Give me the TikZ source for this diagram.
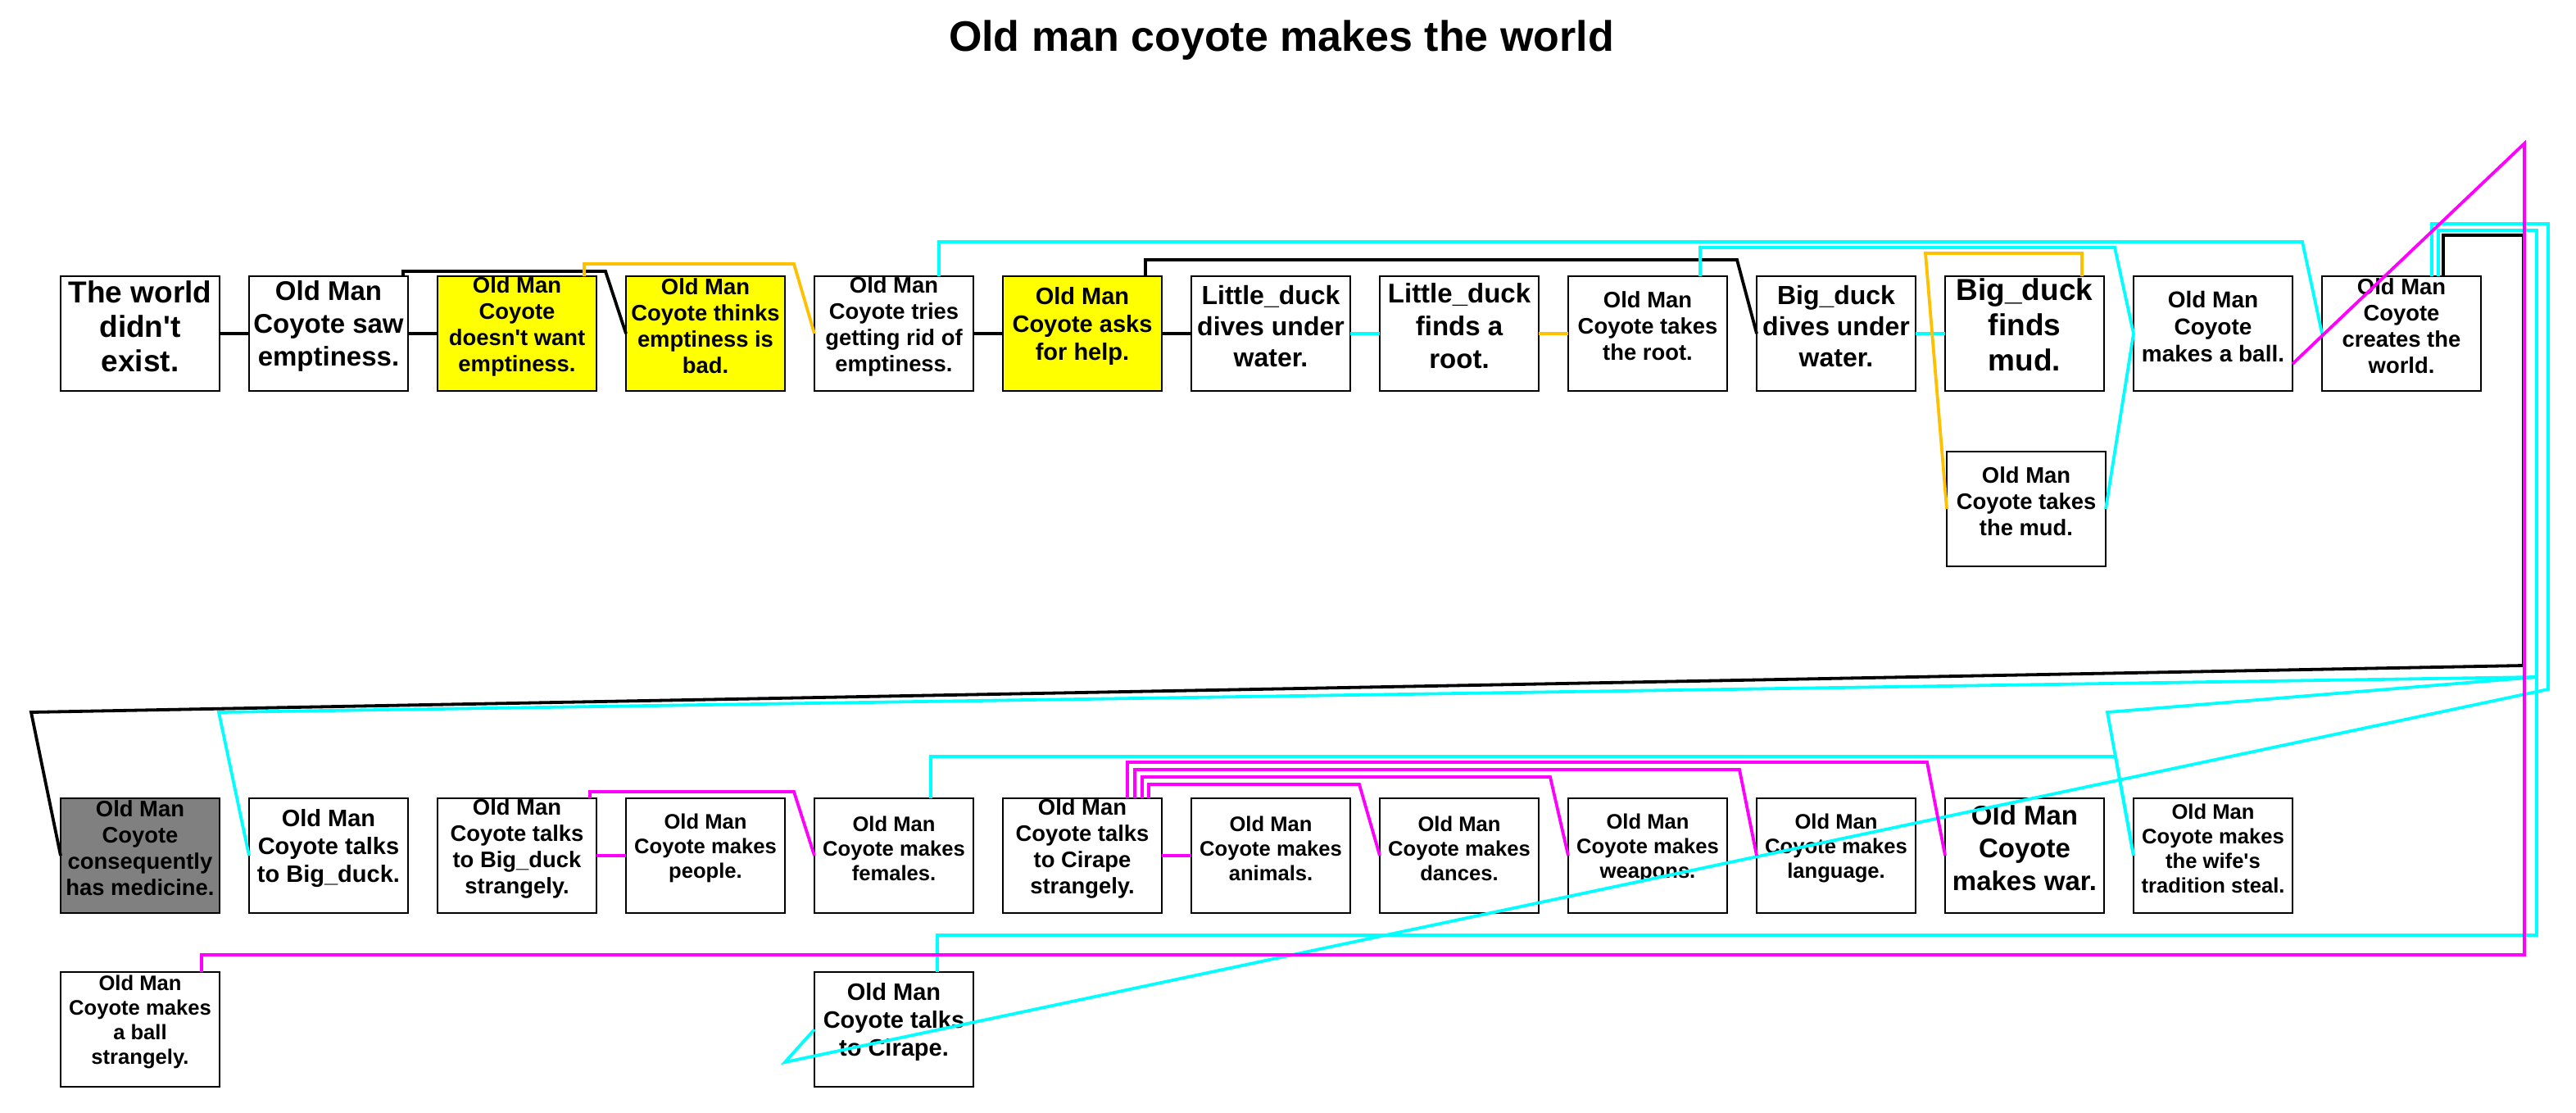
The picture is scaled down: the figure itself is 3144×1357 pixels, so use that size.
\documentclass[tikz,border=0pt]{standalone}
\usepackage{fontspec}
\setmainfont{Liberation Sans}
\usetikzlibrary{calc}
\definecolor{cyanL}{RGB}{0,255,255}
\definecolor{magL}{RGB}{255,0,255}
\definecolor{orangeL}{RGB}{255,192,0}
\definecolor{yellowL}{RGB}{255,255,0}
\definecolor{grayL}{RGB}{128,128,128}
\begin{document}
\begin{tikzpicture}[x=0.5pt,y=-0.5pt,
  box/.style={draw=black, line width=1pt, fill=white, minimum width=97pt, minimum height=70pt, inner sep=0pt, outer sep=0pt},
  ybox/.style={box, fill=yellowL},
  gbox/.style={box, fill=grayL},
  txt/.style={align=center, inner sep=0pt, text=black},
  fA/.style={font=\bfseries\fontsize{18.5}{21}\selectfont},
  fB/.style={font=\bfseries\fontsize{16.5}{20}\selectfont},
  fC/.style={font=\bfseries\fontsize{16}{19}\selectfont},
  fD/.style={font=\bfseries\fontsize{18.5}{21.5}\selectfont},
  fE/.style={font=\bfseries\fontsize{14.5}{17}\selectfont},
  fF/.style={font=\bfseries\fontsize{13.7}{16}\selectfont},
  fK/.style={font=\bfseries\fontsize{14}{16.5}\selectfont},
  fG/.style={font=\bfseries\fontsize{12.8}{15}\selectfont},
  con/.style={line width=1.9pt, line join=miter},
  blk/.style={con, draw=black},
  cyn/.style={con, draw=cyanL},
  mag/.style={con, draw=magL},
  org/.style={con, draw=orangeL}]

\fill[white] (0,0) rectangle (3144,1357);
\useasboundingbox (0,0) rectangle (3144,1357);

\node[font=\bfseries\fontsize{26}{30}\selectfont, anchor=base] (title) at (1564,62) {Old man coyote makes the world};

% ---------- top row ----------
\node[box]  (T0)  at (171,407) {};
\node[box]  (T1)  at (401,407) {};
\node[ybox] (T2)  at (631,407) {};
\node[ybox] (T3)  at (861,407) {};
\node[box]  (T4)  at (1091,407) {};
\node[ybox] (T5)  at (1321,407) {};
\node[box]  (T6)  at (1551,407) {};
\node[box]  (T7)  at (1781,407) {};
\node[box]  (T8)  at (2011,407) {};
\node[box]  (T9)  at (2241,407) {};
\node[box]  (T10) at (2471,407) {};
\node[box]  (T11) at (2701,407) {};
\node[box]  (T12) at (2931,407) {};
\node[box]  (M)   at (2473,621) {};

\node[txt,fA] (T0t)  at ($(T0)+(0,-9)$)  {The world\\didn\textquotesingle t\\exist.};
\node[txt,fB] (T1t)  at ($(T1)+(0,-9)$)  {Old Man\\Coyote saw\\emptiness.};
\node[txt,fF] (T2t)  at ($(T2)+(0,-9)$)  {Old Man\\Coyote\\doesn\textquotesingle t want\\emptiness.};
\node[txt,fF] (T3t)  at ($(T3)+(0,-9)$)  {Old Man\\Coyote thinks\\emptiness is\\bad.};
\node[txt,fF] (T4t)  at ($(T4)+(0,-9)$)  {Old Man\\Coyote tries\\getting rid of\\emptiness.};
\node[txt,fE] (T5t)  at ($(T5)+(0,-9)$)  {Old Man\\Coyote asks\\for help.};
\node[txt,fC] (T6t)  at ($(T6)+(0,-9)$)  {Little\_duck\\dives under\\water.};
\node[txt,fB] (T7t)  at ($(T7)+(0,-9)$)  {Little\_duck\\finds a\\root.};
\node[txt,fF] (T8t)  at ($(T8)+(0,-9)$)  {Old Man\\Coyote takes\\the root.};
\node[txt,fC] (T9t)  at ($(T9)+(0,-9)$)  {Big\_duck\\dives under\\water.};
\node[txt,fD] (T10t) at ($(T10)+(0,-11)$) {Big\_duck\\finds\\mud.};
\node[txt,fK] (T11t) at ($(T11)+(0,-9)$) {Old Man\\Coyote\\makes a ball.};
\node[txt,fF] (T12t) at ($(T12)+(0,-9)$) {Old Man\\Coyote\\creates the\\world.};
\node[txt,fF] (Mt)   at ($(M)+(0,-9)$)   {Old Man\\Coyote takes\\the mud.};

% ---------- bottom row ----------
\node[gbox] (B0)  at (171,1044) {};
\node[box]  (B1)  at (401,1044) {};
\node[box]  (B2)  at (631,1044) {};
\node[box]  (B3)  at (861,1044) {};
\node[box]  (B4)  at (1091,1044) {};
\node[box]  (B5)  at (1321,1044) {};
\node[box]  (B6)  at (1551,1044) {};
\node[box]  (B7)  at (1781,1044) {};
\node[box]  (B8)  at (2011,1044) {};
\node[box]  (B9)  at (2241,1044) {};
\node[box]  (B10) at (2471,1044) {};
\node[box]  (B11) at (2701,1044) {};
\node[box]  (C0)  at (171,1256) {};
\node[box]  (C4)  at (1091,1256) {};

\node[txt,fF] (B0t)  at ($(B0)+(0,-9)$)  {Old Man\\Coyote\\consequently\\has medicine.};
\node[txt,fE] (B1t)  at ($(B1)+(0,-9)$)  {Old Man\\Coyote talks\\to Big\_duck.};
\node[txt,fF] (B2t)  at ($(B2)+(0,-9)$)  {Old Man\\Coyote talks\\to Big\_duck\\strangely.};
\node[txt,fG] (B3t)  at ($(B3)+(0,-9)$)  {Old Man\\Coyote makes\\people.};
\node[txt,fG] (B4t)  at ($(B4)+(0,-9)$)  {Old Man\\Coyote makes\\females.};
\node[txt,fF] (B5t)  at ($(B5)+(0,-9)$)  {Old Man\\Coyote talks\\to Cirape\\strangely.};
\node[txt,fG] (B6t)  at ($(B6)+(0,-9)$)  {Old Man\\Coyote makes\\animals.};
\node[txt,fG] (B7t)  at ($(B7)+(0,-9)$)  {Old Man\\Coyote makes\\dances.};
\node[txt,fG] (B8t)  at ($(B8)+(0,-9)$)  {Old Man\\Coyote makes\\weapons.};
\node[txt,fG] (B9t)  at ($(B9)+(0,-9)$)  {Old Man\\Coyote makes\\language.};
\node[txt,fB] (B10t) at ($(B10)+(0,-9)$) {Old Man\\Coyote\\makes war.};
\node[txt,fG] (B11t) at ($(B11)+(0,-9)$) {Old Man\\Coyote makes\\the wife\textquotesingle s\\tradition steal.};
\node[txt,fG] (C0t)  at ($(C0)+(0,-9)$)  {Old Man\\Coyote makes\\a ball\\strangely.};
\node[txt,fE] (C4t)  at ($(C4)+(0,-9)$)  {Old Man\\Coyote talks\\to Cirape.};

\coordinate (J) at (3096,826);

% ---------- connectors: top row ----------
\draw[blk] (T0.east) -- (T1.west);
\draw[blk] (T1.east) -- (T2.west);
\draw[blk] ($(T1.north west)+(188,0)$) |- (739,331) -- (T3.west);
\draw[org] ($(T2.north west)+(179,0)$) |- (969,322) -- (T4.west);
\draw[blk] (T4.east) -- (T5.west);
\draw[blk] (T5.east) -- (T6.west);
\draw[cyn] (T6.east) -- (T7.west);
\draw[org] (T7.east) -- (T8.west);
\draw[cyn] ($(T4.north west)+(152,0)$) |- (2810,295) -- (T12.west);
\draw[blk] ($(T5.north west)+(174,0)$) |- (2120,317) -- (T9.west);
\draw[cyn] ($(T8.north west)+(161,0)$) |- (2581,302) -- (T11.west);
\draw[cyn] (T9.east) -- (T10.west);
\draw[cyn] (M.east) -- (T11.west);
\draw[org] ($(T10.north west)+(167,0)$) |- (2350,309) -- (M.west);

% ---------- connectors: right side down to the lower rows ----------
\draw[blk] ($(T12.north west)+(148,0)$) |- (3080,287) -- (3080,812) -- (38,869) -- (B0.west);
\draw[cyn] ($(T12.north west)+(134,0)$) |- (3110,273) -- (3110,841) -- (958,1296) -- (C4.west);
\draw[cyn] ($(T12.north west)+(142,0)$) |- (3096,281) -- (3096,1141) -| ($(C4.north west)+(150,0)$);
\draw[cyn] (J) -- (267,869) -- (B1.west);
\draw[cyn] (J) -- (2572,869) -- (B11.west);
\draw[cyn] ($(B4.north west)+(142,0)$) |- (2582,923) -- (B11.west);
\draw[mag] ($(T11.east)+(0,37)$) -- (3081,175) -- (3081,1165) -| ($(C0.north west)+(172,0)$);

% ---------- connectors: bottom row ----------
\draw[mag] (B2.east) -- (B3.west);
\draw[mag] ($(B2.north west)+(186,0)$) |- (969,966) -- (B4.west);
\draw[mag] (B5.east) -- (B6.west);
\draw[mag] ($(B5.north west)+(152,0)$) |- (2352,930) -- (B10.west);
\draw[mag] ($(B5.north west)+(161,0)$) |- (2123,939) -- (B9.west);
\draw[mag] ($(B5.north west)+(170,0)$) |- (1892,948) -- (B8.west);
\draw[mag] ($(B5.north west)+(178,0)$) |- (1659,957) -- (B7.west);
\end{tikzpicture}
\end{document}
